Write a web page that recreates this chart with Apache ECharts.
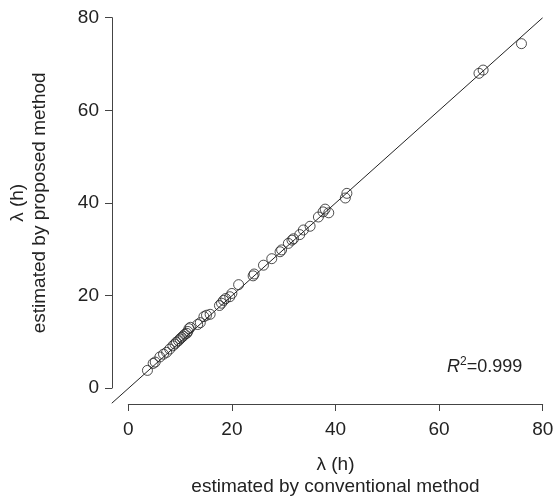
<!DOCTYPE html>
<html>
<head>
<meta charset="utf-8">
<script src="https://cdn.jsdelivr.net/npm/echarts@6/dist/echarts.min.js"></script>
<style>html,body{margin:0;padding:0;background:#fff}#c{width:556px;height:498px}</style>
</head>
<body>
<div id="c"></div>
<script>
// Data
const conventional = [3.7,4.8,5.2,6.1,6.8,7.4,8.0,8.6,9.0,9.3,9.7,10.0,10.3,10.6,10.9,11.3,11.5,11.7,12.0,13.4,13.9,14.6,15.1,15.8,17.6,18.0,18.4,18.8,19.6,20.0,21.3,24.1,24.3,26.1,27.7,29.3,29.6,30.9,31.6,31.9,33.1,33.8,35.1,36.7,37.6,38.0,38.7,41.9,42.2,67.7,68.5,75.9];
const proposed     = [3.9,5.4,5.7,6.8,7.4,7.8,8.5,9.2,9.6,10.0,10.3,10.7,11.0,11.3,11.7,11.9,12.3,12.9,13.2,13.8,14.2,15.5,15.8,16.0,17.9,18.4,19.0,19.4,19.8,20.5,22.4,24.3,24.7,26.6,28.0,29.5,29.9,31.3,32.0,32.3,33.2,34.2,35.0,37.0,38.1,38.7,37.9,41.1,42.1,68.0,68.7,74.4];
const identityLine = [[-3.2,-3.2],[80,80]];
const plotMin = -3.2;   // plotting region extends 4% below 0
const axisMin = 0, axisMax = 80, axisStep = 20;
const r2Label = '0.999';

const points = conventional.map((x,i)=>[x, proposed[i]]);
const axisCol = '#444';
const txtCol = '#222';
const font = 'Liberation Sans, Arial, sans-serif';
const hidden = {show:false};

const chart = echarts.init(document.getElementById('c'), null, {renderer:'canvas'});
chart.setOption({
  animation:false,
  backgroundColor:'#fff',
  grid:[
    {left:111.7, right:13.3, top:17.7, bottom:94.7, containLabel:false, outerBoundsMode:'none'},
    {left:128.3, right:13.3, top:17.7, bottom:110, containLabel:false, outerBoundsMode:'none'}
  ],
  xAxis:[
    {gridIndex:0, type:'value', min:plotMin, max:axisMax,
     axisLine:hidden, axisTick:hidden, axisLabel:hidden, splitLine:hidden},
    {gridIndex:1, type:'value', min:axisMin, max:axisMax, interval:axisStep, offset:16,
     axisLine:{show:true, onZero:false, lineStyle:{color:axisCol, width:1}},
     axisTick:{show:true, length:7, lineStyle:{color:axisCol}},
     axisLabel:{color:txtCol, fontSize:19, fontFamily:font, margin:16},
     splitLine:hidden,
     name:'λ (h)\nestimated by conventional method',
     nameLocation:'middle', nameGap:50,
     nameTextStyle:{color:txtCol, fontSize:19, fontFamily:font, lineHeight:22}}
  ],
  yAxis:[
    {gridIndex:0, type:'value', min:plotMin, max:axisMax,
     axisLine:hidden, axisTick:hidden, axisLabel:hidden, splitLine:hidden},
    {gridIndex:1, type:'value', min:axisMin, max:axisMax, interval:axisStep, offset:16.3,
     axisLine:{show:true, onZero:false, lineStyle:{color:axisCol, width:1}},
     axisTick:{show:true, length:7, lineStyle:{color:axisCol}},
     axisLabel:{color:txtCol, fontSize:19, fontFamily:font, margin:13},
     splitLine:hidden,
     name:'λ (h)\nestimated by proposed method',
     nameLocation:'middle', nameGap:61,
     nameTextStyle:{color:txtCol, fontSize:19, fontFamily:font, lineHeight:22}}
  ],
  series:[
    {type:'line', xAxisIndex:0, yAxisIndex:0, data:identityLine, symbol:'none',
     lineStyle:{color:'#222', width:1}, silent:true, z:1},
    {type:'scatter', xAxisIndex:0, yAxisIndex:0, data:points, symbol:'circle', symbolSize:10, clip:false,
     itemStyle:{color:'rgba(0,0,0,0)', borderColor:'#222', borderWidth:1}, z:2}
  ],
  graphic:[{
    type:'text', left:447, top:356,
    style:{
      text:'{i|R}{s|2}{n|=' + r2Label + '}',
      rich:{
        i:{fontStyle:'italic', fontSize:18, fontFamily:font, fill:txtCol, verticalAlign:'bottom'},
        s:{fontSize:12, fontFamily:font, fill:txtCol, verticalAlign:'top', padding:[0,0,8,0]},
        n:{fontSize:18, fontFamily:font, fill:txtCol, verticalAlign:'bottom'}
      }
    }
  }]
});
</script>
</body>
</html>
